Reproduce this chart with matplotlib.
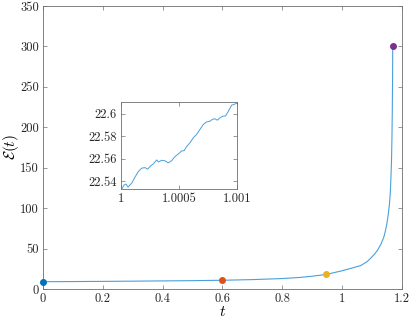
import numpy as np
import matplotlib
matplotlib.use("Agg")
import matplotlib.pyplot as plt

plt.rcParams['font.family'] = 'cmr10'
plt.rcParams['mathtext.fontset'] = 'cm'
plt.rcParams['axes.formatter.use_mathtext'] = True

# main curve E(t)
t_main = [0.0, 0.1, 0.2, 0.3, 0.4, 0.5, 0.6, 0.7, 0.8, 0.86, 0.9, 0.948,
          1.0, 1.03, 1.063, 1.085, 1.10, 1.11, 1.12, 1.13, 1.14, 1.145,
          1.15, 1.155, 1.159, 1.162, 1.164, 1.166, 1.1675, 1.1685,
          1.1695, 1.170]
e_main = [9.0, 9.2, 9.4, 9.7, 10.0, 10.3, 10.8, 11.6, 12.9, 14.3, 15.8, 18.0,
          22.5, 25.5, 29.0, 34.0, 39.5, 43.5, 48.5, 55.0, 64.0, 71.0,
          80.0, 92.0, 105.0, 120.0, 138.0, 160.0, 190.0, 220.0,
          260.0, 301.0]

# highlighted points
t_marks = [0.0, 0.6, 0.948, 1.170]
e_marks = [8.5, 10.7, 18.0, 301.0]
mark_colors = ['#0072BD', '#D95319', '#EDB120', '#7E2F8E']

# inset: zoom on t in [1, 1.001]; offsets in units of 1e-4
dt_inset = [0.06, 0.26, 0.43, 0.60, 0.92, 1.20, 1.49, 1.78, 2.06, 2.29,
            2.55, 2.78, 3.07, 3.21, 3.50, 3.78, 4.07, 4.36, 4.64, 4.93,
            5.21, 5.42, 5.64, 5.93, 6.22, 6.50, 6.79, 7.08, 7.36, 7.65,
            7.88, 8.08, 8.28, 8.51, 8.74, 9.00, 9.23, 9.51, 9.74, 10.0]
e_inset = [22.533, 22.5365, 22.5374, 22.5347, 22.5382, 22.5435, 22.5485,
           22.5515, 22.552, 22.5506, 22.5535, 22.5553, 22.5588, 22.557,
           22.5585, 22.558, 22.5562, 22.5582, 22.5618, 22.5641, 22.5668,
           22.567, 22.5706, 22.5741, 22.5785, 22.5815, 22.5859, 22.5903,
           22.5926, 22.5932, 22.595, 22.5953, 22.5941, 22.5962, 22.5976,
           22.5979, 22.602, 22.6074, 22.6082, 22.6094]

line_color = '#4a9fdc'
spine_color = '#6e6e6e'


def style_axes(ax):
    for s in ax.spines.values():
        s.set_color(spine_color)
        s.set_linewidth(0.6)
    ax.tick_params(direction='in', top=True, right=True, length=3,
                   width=0.5, color=spine_color, labelsize=9,
                   labelcolor='#262626', pad=3)


fig = plt.figure(figsize=(4.12, 3.25), dpi=100)
ax = fig.add_axes([0.1044, 0.1108, 0.8706, 0.8708])
ax.plot(t_main, e_main, color=line_color, lw=0.8)
for tm, em, c in zip(t_marks, e_marks, mark_colors):
    ax.plot(tm, em, 'o', color=c, ms=4, clip_on=False, zorder=5)
ax.set_xlim(0, 1.2)
ax.set_ylim(0, 350)
ax.set_xticks([0, 0.2, 0.4, 0.6, 0.8, 1.0, 1.2])
ax.set_xticklabels(['0', '0.2', '0.4', '0.6', '0.8', '1', '1.2'])
ax.set_yticks(range(0, 351, 50))
ax.set_yticklabels([str(v) for v in range(0, 351, 50)])
style_axes(ax)
ax.set_xlabel(r'$t$', fontsize=11, labelpad=0)
ax.set_ylabel(r'$\mathcal{E}(t)$', fontsize=11)
ax.yaxis.set_label_coords(-0.06, 0.5)

axi = fig.add_axes([0.2937, 0.4185, 0.2823, 0.2668])
axi.plot([1.0 + d * 1e-4 for d in dt_inset], e_inset, color=line_color, lw=0.7)
axi.set_xlim(1.0, 1.001)
axi.set_ylim(22.533, 22.61)
axi.set_xticks([1.0, 1.0005, 1.001])
axi.set_xticklabels(['1', '1.0005', '1.001'])
axi.set_yticks([22.54, 22.56, 22.58, 22.6])
axi.set_yticklabels(['22.54', '22.56', '22.58', '22.6'])
style_axes(axi)

fig.savefig('out.png', dpi=100)
